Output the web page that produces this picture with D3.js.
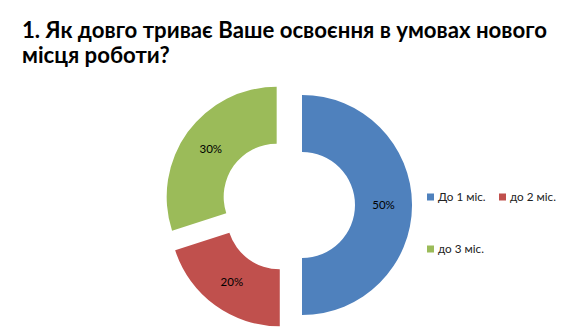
<!DOCTYPE html>
<html><head><meta charset="utf-8">
<script src="https://cdn.jsdelivr.net/npm/d3@7"></script>
<style>body{margin:0;background:#fff}svg{display:block}</style>
</head><body>
<svg id="c" width="576" height="336"></svg>
<script>
const titleLines = ["1. Як довго триває Ваше освоєння в умовах нового", "місця роботи?"];
const categories = ["До 1 міс.", "до 2 міс.", "до 3 міс."];
const values = [50, 20, 30];
const colors = ["#4F81BD", "#C0504D", "#9BBB59"];

const svg = d3.select("#c");
const cx = 288, cy = 205, rOut = 110, rIn = 53, explode = 14;

svg.append("g").selectAll("text").data(titleLines).join("text")
  .attr("x", 22).attr("y", (d,i) => 38 + i*25)
  .attr("font-family", "Lato, sans-serif").attr("font-weight", "bold")
  .attr("font-size", 22.2).attr("fill", "#000").text(d => d);

const total = d3.sum(values);
const pie = d3.pie().sort(null).value(d => d)(values);
const arc = d3.arc().innerRadius(rIn).outerRadius(rOut);
const g = svg.append("g").attr("transform", `translate(${cx},${cy})`);
const slices = g.selectAll("g.s").data(pie).join("g")
  .attr("transform", d => {
    const a = (d.startAngle + d.endAngle)/2;
    return `translate(${Math.sin(a)*explode},${-Math.cos(a)*explode})`;
  });
slices.append("path").attr("d", arc).attr("fill", (d,i) => colors[i]);
slices.append("text")
  .attr("transform", d => `translate(${arc.centroid(d)})`)
  .attr("text-anchor", "middle").attr("dy", "0.35em")
  .attr("font-family", "Lato, sans-serif").attr("font-size", 11.5).attr("fill", "#000")
  .text(d => Math.round(d.data/total*100) + "%");

const legendPos = [[427,197],[499,197],[427,249]];
const lg = svg.append("g").selectAll("g").data(categories).join("g")
  .attr("transform", (d,i) => `translate(${legendPos[i][0]},${legendPos[i][1]})`);
lg.append("rect").attr("x", 0).attr("y", -3.5).attr("width", 7).attr("height", 7)
  .attr("fill", (d,i) => colors[i]);
lg.append("text").attr("x", 11).attr("dy", "0.35em")
  .attr("font-family", "Lato, sans-serif").attr("font-size", 11.7).attr("fill", "#222")
  .text(d => d);
</script>
</body></html>
